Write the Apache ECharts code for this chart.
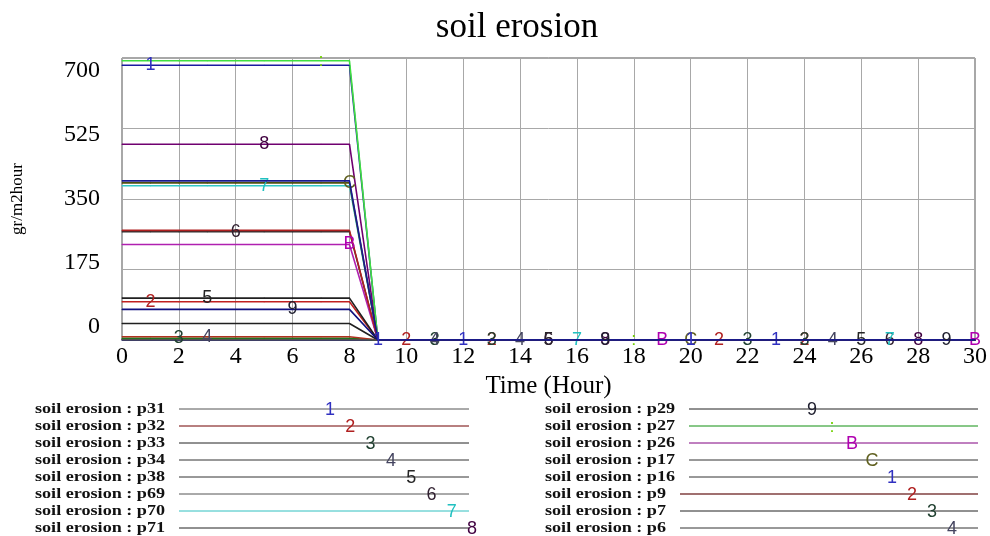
<!DOCTYPE html>
<html>
<head>
<meta charset="utf-8">
<script src="https://cdn.jsdelivr.net/npm/echarts@6/dist/echarts.min.js"></script>
<style>html,body{margin:0;padding:0;background:#fff}#c{width:990px;height:536px}</style>
</head>
<body>
<div id="c"></div>
<script>
// ---- data (per simulated hour, 0..30) ----
const hours = [0,1,2,3,4,5,6,7,8,9,10,11,12,13,14,15,16,17,18,19,20,21,22,23,24,25,26,27,28,29,30];
const p31 = [682,682,682,682,682,682,682,682,682,0,0,0,0,0,0,0,0,0,0,0,0,0,0,0,0,0,0,0,0,0,0];
const p32 = [95,95,95,95,95,95,95,95,95,0,0,0,0,0,0,0,0,0,0,0,0,0,0,0,0,0,0,0,0,0,0];
const p33 = [4,4,4,4,4,4,4,4,4,0,0,0,0,0,0,0,0,0,0,0,0,0,0,0,0,0,0,0,0,0,0];
const p34 = [8,8,8,8,8,8,8,8,8,0,0,0,0,0,0,0,0,0,0,0,0,0,0,0,0,0,0,0,0,0,0];
const p38 = [104,104,104,104,104,104,104,104,104,0,0,0,0,0,0,0,0,0,0,0,0,0,0,0,0,0,0,0,0,0,0];
const p69 = [269,269,269,269,269,269,269,269,269,0,0,0,0,0,0,0,0,0,0,0,0,0,0,0,0,0,0,0,0,0,0];
const p70 = [383,383,383,383,383,383,383,383,383,0,0,0,0,0,0,0,0,0,0,0,0,0,0,0,0,0,0,0,0,0,0];
const p71 = [486,486,486,486,486,486,486,486,486,0,0,0,0,0,0,0,0,0,0,0,0,0,0,0,0,0,0,0,0,0,0];
const p29 = [76,76,76,76,76,76,76,76,76,0,0,0,0,0,0,0,0,0,0,0,0,0,0,0,0,0,0,0,0,0,0];
const p27 = [693,693,693,693,693,693,693,693,693,0,0,0,0,0,0,0,0,0,0,0,0,0,0,0,0,0,0,0,0,0,0];
const p26 = [237,237,237,237,237,237,237,237,237,0,0,0,0,0,0,0,0,0,0,0,0,0,0,0,0,0,0,0,0,0,0];
const p17 = [390,390,390,390,390,390,390,390,390,0,0,0,0,0,0,0,0,0,0,0,0,0,0,0,0,0,0,0,0,0,0];
const p16 = [395,395,395,395,395,395,395,395,395,0,0,0,0,0,0,0,0,0,0,0,0,0,0,0,0,0,0,0,0,0,0];
const p9  = [272,272,272,272,272,272,272,272,272,0,0,0,0,0,0,0,0,0,0,0,0,0,0,0,0,0,0,0,0,0,0];
const p7  = [41,41,41,41,41,41,41,41,41,0,0,0,0,0,0,0,0,0,0,0,0,0,0,0,0,0,0,0,0,0,0];
const p6  = [1,1,1,1,1,1,1,1,1,0,0,0,0,0,0,0,0,0,0,0,0,0,0,0,0,0,0,0,0,0,0];

const seriesNames = ['p31','p32','p33','p34','p38','p69','p70','p71','p29','p27','p26','p17','p16','p9','p7','p6'];
const seriesValues = [p31,p32,p33,p34,p38,p69,p70,p71,p29,p27,p26,p17,p16,p9,p7,p6];
const markerChars = ['1','2','3','4','5','6','7','8','9',':','B','C','1','2','3','4'];
const markerHours = [[1,12,23],[1,13,24],[2,13,24],[3,14,25],[3,15,26],[4,15,27],[5,16,27],[5,17,28],[6,17,29],[7,18],[8,19,30],[8,20],[9,20],[10,21],[11,22],[11]];
const yTicks = [0,175,350,525,700];
const xTicks = [0,2,4,6,8,10,12,14,16,18,20,22,24,26,28,30];
const titleText = 'soil erosion';
const xName = 'Time (Hour)';
const yName = 'gr/m2hour';
const legendPrefix = 'soil erosion : ';

// ---- styles ----
const lineColors = ['#1a1aa0','#c02020','#108010','#b03020','#202020','#303030','#30c8c8','#700070','#101080','#40e040','#b020b0','#505010','#1a1a90','#b02020','#202020','#505050'];
const labelColors = ['#3030c0','#b02020','#204030','#454560','#252525','#302030','#20c0c0','#400040','#202030','#70d000','#b000b0','#606020','#3030c0','#b02020','#204030','#454560'];
const legendLineColors = ['#555','#700000','#222','#333','#333','#555','#30c0c0','#222','#222','#109010','#800080','#333','#333','#a07070','#222','#333'];
const legendLineWidths = [1,1,1,1,1,1,1,1,1,1,1,1,1,2,1,1];
const serif = '"Liberation Serif", "Times New Roman", serif';
const sans = '"Liberation Sans", Arial, sans-serif';

const yStep = yTicks[1] - yTicks[0];
const xStep = xTicks[1] - xTicks[0];

const series = seriesNames.map((n, i) => ({
  name: legendPrefix + n,
  type: 'line',
  xAxisIndex: 0, yAxisIndex: 0,
  data: hours.map((h, k) => markerHours[i].includes(h)
    ? { value: [h, seriesValues[i][k]], label: { show: true } }
    : [h, seriesValues[i][k]]),
  symbol: 'circle', symbolSize: 1, showSymbol: true, showAllSymbol: true,
  lineStyle: { color: lineColors[i], width: 1.6 },
  itemStyle: { color: lineColors[i] },
  label: { show: false, position: 'inside', formatter: markerChars[i], color: labelColors[i], fontSize: 18, fontFamily: sans },
  z: (n === 'p29' || n === 'p16') ? 3 : 2,
  silent: true, animation: false
}));

// ---- custom legend ----
const graphics = [];
seriesNames.forEach((n, i) => {
  const col = i < 8 ? 0 : 1;
  const row = i % 8;
  const y = 409 + row * 17;
  const textX = col === 0 ? 35 : 545;
  const lineX1 = col === 0 ? 179 : (n.length === 2 ? 680 : 689);
  const lineX2 = col === 0 ? 469 : 978;
  const markX = col === 0 ? 330 + row * 20.3 : 812 + row * 20;
  graphics.push({
    type: 'text', x: textX, y: y, scaleX: 1.25,
    style: { text: legendPrefix + n, fontSize: 14.5, fontWeight: 'bold', fontFamily: serif, fill: '#111', align: 'left', verticalAlign: 'middle' }
  });
  graphics.push({
    type: 'line', shape: { x1: lineX1, y1: y, x2: lineX2, y2: y },
    style: { stroke: legendLineColors[i], lineWidth: legendLineWidths[i] }
  });
  graphics.push({
    type: 'text', x: markX, y: y + 1.5,
    style: { text: markerChars[i], fontSize: 18, fontFamily: sans, fill: labelColors[i], align: 'center', verticalAlign: 'middle' }
  });
});

const chart = echarts.init(document.getElementById('c'));
chart.setOption({
  animation: false,
  backgroundColor: '#fff',
  title: {
    text: titleText, left: 512, top: 5, textAlign: 'center',
    textStyle: { fontFamily: serif, fontSize: 35, fontWeight: 'normal', color: '#000' }
  },
  grid: [
    { left: 122, right: 15, top: 58, bottom: 196, show: true, borderColor: '#505050', borderWidth: 1, backgroundColor: 'transparent' },
    { left: 122, right: 15, top: 71, bottom: 209, show: false }
  ],
  xAxis: [
    {
      type: 'value', gridIndex: 0, min: xTicks[0], max: xTicks[xTicks.length - 1], interval: xStep,
      name: xName, nameLocation: 'middle', nameGap: 31,
      nameTextStyle: { fontFamily: serif, fontSize: 25, color: '#000' },
      axisLine: { show: true, lineStyle: { color: '#101060', width: 1.5 } },
      axisTick: { show: false },
      axisLabel: { fontFamily: serif, fontSize: 24, color: '#000', margin: 5 },
      splitLine: { show: true, lineStyle: { color: '#a8a8a8', width: 1 } }
    },
    { type: 'value', gridIndex: 1, show: false, min: 0, max: 30 }
  ],
  yAxis: [
    {
      type: 'value', gridIndex: 0, min: yTicks[0], max: yTicks[yTicks.length - 1], interval: yStep,
      name: yName, nameLocation: 'middle', nameGap: 96, nameRotate: 90,
      nameTextStyle: { fontFamily: serif, fontSize: 17, color: '#000' },
      axisLine: { show: false }, axisTick: { show: false }, axisLabel: { show: false },
      splitLine: { show: true, lineStyle: { color: '#a8a8a8', width: 1 } }
    },
    {
      type: 'value', gridIndex: 1, min: yTicks[0], max: yTicks[yTicks.length - 1], interval: yStep,
      axisLine: { show: false }, axisTick: { show: false }, splitLine: { show: false },
      axisLabel: { fontFamily: serif, fontSize: 24, color: '#000', margin: 22 }
    }
  ],
  graphic: graphics,
  series: series
});
</script>
</body>
</html>
